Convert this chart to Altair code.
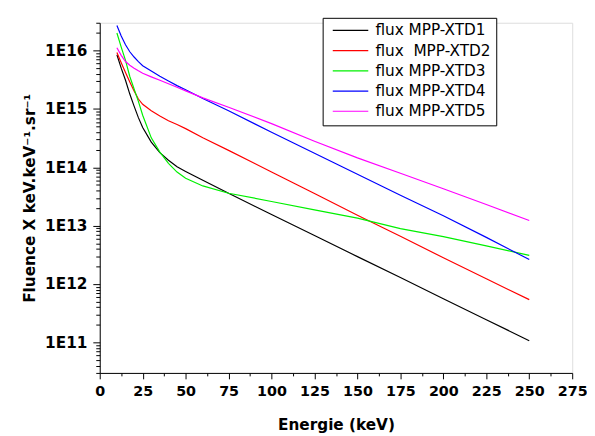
import altair as alt
import pandas as pd

# ---- data ----
energy_kev = [10, 12.5, 15, 17.5, 20, 22.5, 25, 30, 35, 40, 45, 50, 60, 75,
              100, 125, 150, 175, 200, 225, 250]

flux_xtd1 = [8.5e15, 5.0e15, 3.1e15, 1.8e15, 1.12e15, 7.1e14, 4.8e14, 2.7e14,
             1.78e14, 1.32e14, 1.02e14, 8.5e13, 6.0e13, 3.6e13, 1.55e13,
             6.8e12, 2.95e12, 1.29e12, 5.6e11, 2.45e11, 1.07e11]
flux_xtd2 = [9.3e15, 6.2e15, 4.2e15, 2.9e15, 2.04e15, 1.48e15, 1.2e15, 9.3e14,
             7.6e14, 6.3e14, 5.4e14, 4.6e14, 3.2e14, 1.95e14, 8.3e13,
             3.55e13, 1.51e13, 6.6e12, 2.82e12, 1.23e12, 5.4e11]
flux_xtd3 = [2.0e16, 1.15e16, 6.8e15, 3.6e15, 2.2e15, 1.35e15, 7.8e14, 3.2e14,
             1.82e14, 1.17e14, 8.3e13, 6.5e13, 4.8e13, 3.6e13, 2.6e13,
             1.86e13, 1.35e13, 8.9e12, 6.5e12, 4.5e12, 3.1e12]
flux_xtd4 = [2.69e16, 1.78e16, 1.26e16, 9.55e15, 7.76e15, 6.46e15, 5.5e15,
             4.47e15, 3.63e15, 3.02e15, 2.51e15, 2.14e15, 1.51e15, 9.33e14,
             3.98e14, 1.74e14, 7.59e13, 3.31e13, 1.48e13, 6.31e12, 2.63e12]
flux_xtd5 = [1.12e16, 8.3e15, 6.5e15, 5.6e15, 5.0e15, 4.5e15, 4.1e15, 3.55e15,
             3.1e15, 2.7e15, 2.35e15, 2.04e15, 1.55e15, 1.07e15, 5.6e14,
             2.8e14, 1.45e14, 7.9e13, 4.3e13, 2.3e13, 1.23e13]

series_labels = ["flux MPP-XTD1", "flux\u00a0 MPP-XTD2", "flux MPP-XTD3",
                 "flux MPP-XTD4", "flux MPP-XTD5"]
series_colors = ["#000000", "#FF0000", "#00F000", "#0000FF", "#FF00FF"]

x_tick_values = [0, 12.5, 25, 37.5, 50, 62.5, 75, 87.5, 100, 112.5, 125, 137.5,
                 150, 162.5, 175, 187.5, 200, 212.5, 225, 237.5, 250, 262.5, 275]
y_decades = [1e10, 1e11, 1e12, 1e13, 1e14, 1e15, 1e16]
y_minor_mult = [1, 2, 3, 4, 5, 6, 7, 8, 9]
y_domain = [3e10, 3e16]

# ---- build tables ----
rows = []
for label, vals in zip(series_labels,
                       [flux_xtd1, flux_xtd2, flux_xtd3, flux_xtd4, flux_xtd5]):
    for e, v in zip(energy_kev, vals):
        rows.append({"energy": e, "flux": v, "series": label})
df = pd.DataFrame(rows)

y_tick_values = [d * m for d in y_decades for m in y_minor_mult
                 if y_domain[0] * 0.999 <= d * m <= y_domain[1] * 1.001]

FONT = "DejaVu Sans"
is_major_y = "abs(log(datum.value)/LN10 - round(log(datum.value)/LN10)) < 0.001"

x_axis = alt.Axis(
    values=x_tick_values,
    labelExpr="datum.value % 25 == 0 ? datum.label : ''",
    tickSize={"condition": {"test": "datum.value % 25 == 0", "value": 6}, "value": 3},
    title="Energie (keV)",
    grid=False,
    labelFlush=False,
    labelOverlap=False,
    labelFont=FONT, labelFontSize=14.5, labelFontWeight="bold", labelColor="black",
    labelPadding=6,
    titleFont=FONT, titleFontSize=15.5, titleFontWeight="bold", titleColor="black",
    titlePadding=20,
    domainColor="black", tickColor="black", domainWidth=1, tickWidth=1,
)

y_axis = alt.Axis(
    values=y_tick_values,
    labelExpr=is_major_y + " ? '1E' + round(log(datum.value)/LN10) : ''",
    tickSize={"condition": {"test": is_major_y, "value": 7}, "value": 4},
    title="Fluence X keV.keV\u207b\u00b9.sr\u207b\u00b9",
    grid=False,
    labelOverlap=False,
    labelFont=FONT, labelFontSize=15.5, labelFontWeight="bold", labelColor="black",
    labelPadding=6,
    titleFont=FONT, titleFontSize=15.5, titleFontWeight="bold", titleColor="black",
    titlePadding=7,
    domainColor="black", tickColor="black", domainWidth=1, tickWidth=1,
)

legend = alt.Legend(
    title=None,
    orient="none",
    legendX=226,
    legendY=-5,
    direction="vertical",
    strokeColor="black",
    fillColor="white",
    padding=5,
    rowPadding=3.5,
    symbolType="M-3,0L3,0",
    symbolSize=144,
    symbolStrokeWidth=1.2,
    symbolOffset=15.5,
    labelOffset=17.5,
    labelFont=FONT,
    labelFontSize=15.5,
    labelColor="black",
    labelLimit=300,
)

chart = (
    alt.Chart(df)
    .mark_line(strokeWidth=1.2, clip=True)
    .encode(
        x=alt.X("energy:Q", scale=alt.Scale(domain=[0, 275], nice=False, zero=False),
                axis=x_axis),
        y=alt.Y("flux:Q", scale=alt.Scale(type="log", domain=y_domain, nice=False),
                axis=y_axis),
        color=alt.Color("series:N",
                        scale=alt.Scale(domain=series_labels, range=series_colors),
                        legend=legend),
        order=alt.Order("energy:Q"),
    )
    .properties(
        width=479,
        height=355,
        autosize=alt.AutoSizeParams(type="none"),
        padding={"left": 93, "top": 12, "right": 15, "bottom": 61},
    )
    .configure_view(stroke=None)
    .configure(background="white")
)

chart.save("out.html", embed_options={"renderer": "svg", "actions": False})
